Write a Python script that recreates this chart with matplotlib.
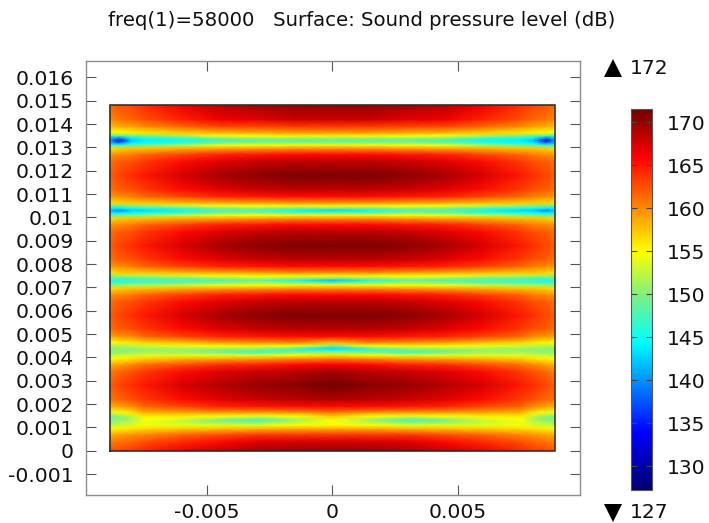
import numpy as np
import matplotlib
matplotlib.use("Agg")
import matplotlib.pyplot as plt
from matplotlib.colors import LinearSegmentedColormap
from matplotlib.lines import Line2D

TITLE = "freq(1)=58000   Surface: Sound pressure level (dB)"
x_ticks = [-0.005, 0, 0.005]
x_tick_labels = ["-0.005", "0", "0.005"]
y_ticks = [-0.001, 0, 0.001, 0.002, 0.003, 0.004, 0.005, 0.006, 0.007, 0.008,
           0.009, 0.01, 0.011, 0.012, 0.013, 0.014, 0.015, 0.016]
y_tick_labels = ["-0.001", "0", "0.001", "0.002", "0.003", "0.004", "0.005", "0.006",
                 "0.007", "0.008", "0.009", "0.01", "0.011", "0.012", "0.013", "0.014",
                 "0.015", "0.016"]
cbar_ticks = [130, 135, 140, 145, 150, 155, 160, 165, 170]
range_max = 172
range_min = 127

# half-width columns (mirrored about x=0)
x_half = [0, 0.0015, 0.003, 0.0045, 0.006, 0.0075, 0.008, 0.0085, 0.00885]
y_rows = [0, .0004, .0007, .00095, .0011, .0012, .0013, .0014, .0015, .00165, .0019, .0022,
          .0028, .0034, .0037, .00395, .0041, .0042, .0043, .0044, .0045, .00465, .0049, .0052,
          .0058, .0064, .0067, .00695, .0071, .0072, .0073, .0074, .0075, .00765, .0079, .0082,
          .0088, .0094, .0097, .00995, .0101, .0102, .0103, .0104, .0105, .01065, .0109, .0112,
          .0118, .0124, .0127, .01295, .0131, .0132, .0133, .0134, .0135, .01365, .0139, .0142,
          .0148]
crest = [171, 171, 170.5, 169.5, 167.5, 165, 164, 163, 162]
flank_far = [168.5, 168.5, 168, 167, 165.5, 163.5, 162.5, 162, 161]
flank_mid = [165.5, 165.5, 165, 164.5, 163, 161.5, 160.5, 160, 159.5]
flank_near = [160, 160, 159.5, 159, 158.5, 157.5, 157.5, 157, 156.5]
band3_side = [155.5, 155.5, 155, 154.5, 153, 152, 152, 151.5, 151]
band3_in = [150, 151, 152, 151, 149.5, 148.5, 148, 147.5, 148]
band4_side = [155.5, 155.5, 155, 154.5, 153, 151, 150.5, 149.5, 149]
band4_in = [150, 149.5, 151, 150, 147.5, 146, 145, 144, 144]
band5_side = [155.5, 155.5, 155, 154.5, 152, 150, 149, 147.5, 147]
band5_in = [151, 151, 151, 150, 147, 145, 144, 139, 142]
spl_half = [
    [170, 170, 169.5, 168, 166.5, 164.5, 163.5, 163, 162.5],
    [167.5, 167.5, 167, 165.5, 164, 162.5, 161.5, 161, 160.5],
    [163.5, 163.5, 163.5, 162.5, 161.5, 160, 159.5, 159, 158.5],
    [158.5, 158.5, 158, 157.5, 157, 156.5, 156, 155.5, 155],
    [155.5, 155, 154, 154, 154, 154.5, 153.5, 153, 152.5],
    [155, 153, 151, 151.5, 153, 154.5, 153, 152, 151.5],
    [155, 151.5, 147.5, 150, 153, 155, 152, 151, 150.5],
    [156, 152.5, 150.5, 152, 154, 155, 151.5, 150, 150],
    [157.5, 155, 154, 155, 156, 156, 153, 151, 150.5],
    [161, 160, 159.5, 159.5, 159, 158.5, 156, 154.5, 154],
    [165.5, 165.5, 165, 164.5, 163, 161.5, 160, 159, 158.5],
    [169, 168.5, 168, 167, 165.5, 163.5, 162.5, 161.5, 161],
    [171.5, 170.5, 170, 169, 167.5, 165, 164, 163, 162],
    [169.5, 168.5, 168, 167, 165.5, 163.5, 162.5, 161.5, 160.5],
    [166, 165.5, 164.5, 164, 162.5, 161, 160, 159, 158.5],
    [160.5, 160, 159, 158.5, 158, 157, 156, 155.5, 155],
    [156.5, 155, 154, 154, 154, 154, 153.5, 153, 152.5],
    [152, 151, 148.5, 150.5, 152, 152, 151.5, 151, 151],
    [146, 147.5, 148, 149.5, 151, 151, 150.5, 150.5, 150.5],
    [143, 148.5, 151.5, 152, 152, 151.5, 151, 151, 151],
    [150, 155, 155.5, 155, 154, 153, 152.5, 152, 152],
    [158, 160.5, 160, 159.5, 158, 157, 156, 155.5, 155],
    [165.5, 165.5, 165, 164.5, 163, 161.5, 160, 159.5, 159],
    [168.5, 168.5, 168, 167, 165.5, 163.5, 162.5, 162, 161],
    crest,
    flank_far, flank_mid, flank_near, band3_side, band3_in,
    [142, 146, 149, 148, 148, 147.5, 147, 146, 147],
    band3_in, band3_side, flank_near, flank_mid, flank_far,
    crest,
    flank_far, flank_mid, flank_near, band4_side, band4_in,
    [143, 145, 148, 148, 145.5, 143, 142.5, 139, 142],
    band4_in, band4_side, flank_near, flank_mid, flank_far,
    crest,
    flank_far, flank_mid, flank_near, band5_side, band5_in,
    [148.5, 148.5, 148.5, 147.5, 145, 144, 142, 131, 141],
    band5_in, band5_side,
    [159.5, 159.5, 159, 158.5, 157.5, 156, 155.5, 155, 154.5],
    [163.5, 163.5, 163, 163, 161.5, 160, 159, 158.5, 158],
    [168, 168, 167, 166.5, 164.5, 162.5, 161.5, 161, 160],
    [170, 170, 169.5, 168.5, 166.5, 164, 163, 162.5, 161.5],
]
cmap_levels = [127.3, 134, 144.5, 150, 155, 166, 171.6]
cmap_colors = ["#000070", "#0000ff", "#00ffff", "#80f080", "#ffff00", "#ff0000", "#700000"]

W, H = 709, 523
fig = plt.figure(figsize=(W / 100, H / 100), dpi=100)
FS = 14.6


def rect(l, t, r, b):
    return [l / W, 1 - b / H, (r - l) / W, (b - t) / H]


vmin, vmax = cmap_levels[0], cmap_levels[-1]
stops = [(v - vmin) / (vmax - vmin) for v in cmap_levels]
cmap = LinearSegmentedColormap.from_list("comsol", list(zip(stops, cmap_colors)), N=512)

x_half_a = np.array(x_half)
spl_half_a = np.array(spl_half)
xs = np.concatenate([-x_half_a[:0:-1], x_half_a])
spl = np.hstack([spl_half_a[:, :0:-1], spl_half_a])

ax = fig.add_axes(rect(85.5, 61, 580, 495))
mesh = ax.pcolormesh(xs, np.array(y_rows), spl, shading="gouraud", cmap=cmap, vmin=vmin, vmax=vmax,
                     rasterized=True)
ax.plot([xs[0], xs[-1], xs[-1], xs[0], xs[0]], [y_rows[0], y_rows[0], y_rows[-1], y_rows[-1], y_rows[0]],
        color="#2a2a2a", lw=1.1, solid_joinstyle="miter")
ax.set_xlim(-0.00982, 0.00986)
ax.set_ylim(-0.0019, 0.0167)
ax.set_xticks(x_ticks, x_tick_labels, fontsize=FS)
ax.set_yticks(y_ticks, y_tick_labels, fontsize=FS)
ax.tick_params(direction="in", length=7.5, width=0.8, color="#555555", top=True, right=True,
               labelcolor="#111111")
ax.tick_params(axis="x", pad=6)
ax.tick_params(axis="y", pad=8.5)
for s in ax.spines.values():
    s.set_color("#8c8c8c")
    s.set_linewidth(1.0)

fig.text(361.5 / W, 1 - 21 / H, TITLE, ha="center", va="center", fontsize=14.2, color="#111111")

cax = fig.add_axes(rect(631, 108.7, 652.5, 489.7))
cb = fig.colorbar(mesh, cax=cax, ticks=cbar_ticks)
cb.outline.set_edgecolor("#555555")
cb.outline.set_linewidth(0.8)
cax.tick_params(direction="in", length=4.5, width=0.8, color="#444444", left=True, right=True,
                labelsize=FS, labelcolor="#111111", pad=10)

fig.add_artist(Line2D([612.5 / W], [1 - 67.5 / H], marker="^", ms=13, color="black", mew=0,
                      transform=fig.transFigure, ls="none"))
fig.add_artist(Line2D([612.5 / W], [1 - 513 / H], marker="v", ms=13, color="black", mew=0,
                      transform=fig.transFigure, ls="none"))
fig.text(630 / W, 1 - 68 / H, str(range_max), ha="left", va="center", fontsize=FS, color="#111111")
fig.text(630 / W, 1 - 513 / H, str(range_min), ha="left", va="center", fontsize=FS, color="#111111")

fig.savefig("out.png", dpi=100)
